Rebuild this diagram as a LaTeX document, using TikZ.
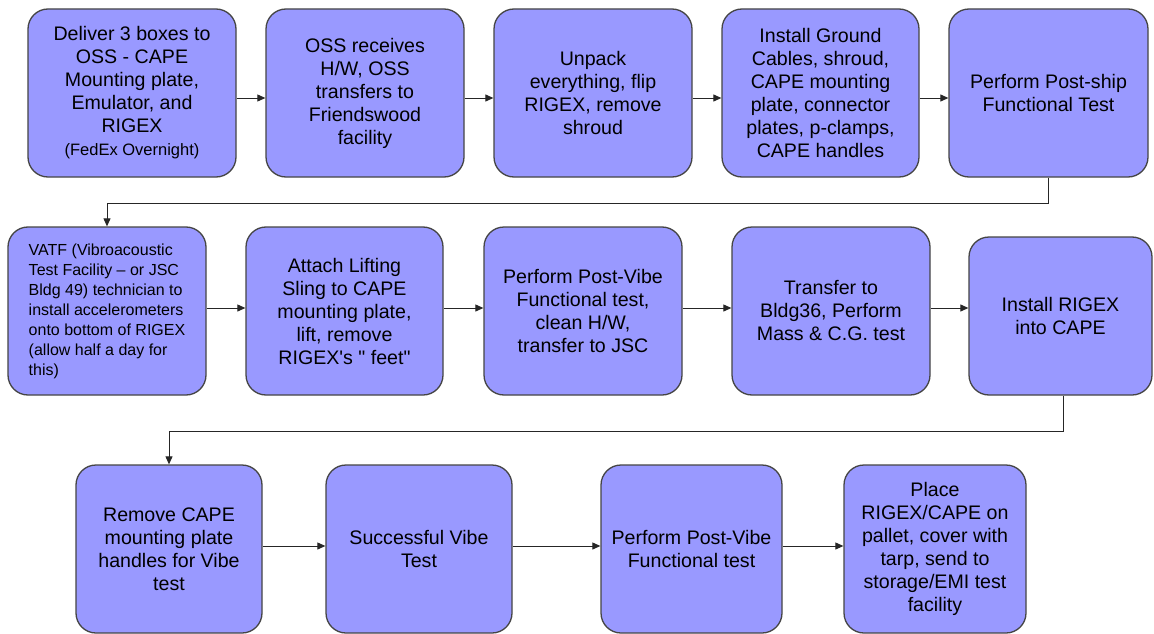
\documentclass[tikz,border=0pt]{standalone}
\usepackage{fontspec}
\setmainfont{Liberation Sans}
\usetikzlibrary{arrows.meta}
\definecolor{boxfill}{HTML}{9999FF}
\definecolor{boxline}{HTML}{454545}
\begin{document}
\begin{tikzpicture}[x=1pt,y=-1pt,
  stepbox/.style={draw=boxline, line width=1.3pt, fill=boxfill, rounded corners=20pt,
    align=center, inner sep=0pt, font=\fontsize{19.6}{23}\selectfont},
  conn/.style={draw=black!85, line width=1pt, -{Triangle[length=8pt,width=7pt]}}]
\useasboundingbox[fill=white] (0,0) rectangle (1154,634);
% row 1
\node[stepbox, minimum width=208pt, minimum height=168pt] (b1) at (132,93)
  {Deliver 3 boxes to\\OSS - CAPE\\Mounting plate,\\Emulator, and\\RIGEX\\{\fontsize{16.5}{18}\selectfont (FedEx Overnight)}};
\node[stepbox, minimum width=198pt, minimum height=168pt] (b2) at (365,93)
  {OSS receives\\H/W, OSS\\transfers to\\Friendswood\\facility};
\node[stepbox, minimum width=198pt, minimum height=168pt] (b3) at (593,93)
  {Unpack\\everything, flip\\RIGEX, remove\\shroud};
\node[stepbox, minimum width=197pt, minimum height=168pt] (b4) at (820.5,93)
  {Install Ground\\Cables, shroud,\\CAPE mounting\\plate, connector\\plates, p-clamps,\\CAPE handles};
\node[stepbox, minimum width=199pt, minimum height=168pt] (b5) at (1048.5,93)
  {Perform Post-ship\\Functional Test};
% row 2
\node[stepbox, minimum width=198pt, minimum height=168pt, align=left, font=\fontsize{16}{20}\selectfont] (b6) at (107,311)
  {VATF (Vibroacoustic\\Test Facility – or JSC\\Bldg 49) technician to\\install accelerometers\\onto bottom of RIGEX\\(allow half a day for\\this)};
\node[stepbox, minimum width=197pt, minimum height=168pt] (b7) at (344.5,311)
  {Attach Lifting\\Sling to CAPE\\mounting plate,\\lift, remove\\RIGEX\textquotesingle s \textquotedbl{} feet\textquotedbl};
\node[stepbox, minimum width=198pt, minimum height=168pt] (b8) at (583,311)
  {Perform Post-Vibe\\Functional test,\\clean H/W,\\transfer to JSC};
\node[stepbox, minimum width=198pt, minimum height=168pt] (b9) at (831,311)
  {Transfer to\\Bldg36, Perform\\Mass \& C.G. test};
\node[stepbox, minimum width=183pt, minimum height=158pt] (b10) at (1060.5,316)
  {Install RIGEX\\into CAPE};
% row 3
\node[stepbox, minimum width=186pt, minimum height=168pt] (b11) at (169,549)
  {Remove CAPE\\mounting plate\\handles for Vibe\\test};
\node[stepbox, minimum width=186pt, minimum height=168pt] (b12) at (419,549)
  {Successful Vibe\\Test};
\node[stepbox, minimum width=181pt, minimum height=168pt] (b13) at (691.5,549)
  {Perform Post-Vibe\\Functional test};
\node[stepbox, minimum width=182pt, minimum height=168pt] (b14) at (935,549)
  {Place\\RIGEX/CAPE on\\pallet, cover with\\tarp, send to\\storage/EMI test\\facility};
% connectors
\draw[conn] ([yshift=-5pt]b1.east) -- ([yshift=-5pt]b2.west);
\draw[conn] ([yshift=-5pt]b2.east) -- ([yshift=-5pt]b3.west);
\draw[conn] ([yshift=-5pt]b3.east) -- ([yshift=-5pt]b4.west);
\draw[conn] ([yshift=-5pt]b4.east) -- ([yshift=-5pt]b5.west);
\draw[conn] (b5.south) -- ++(0,26) -| (b6.north);
\draw[conn] ([yshift=3pt]b6.east) -- ([yshift=3pt]b7.west);
\draw[conn] ([yshift=3pt]b7.east) -- ([yshift=3pt]b8.west);
\draw[conn] ([yshift=3pt]b8.east) -- ([yshift=3pt]b9.west);
\draw[conn] ([yshift=3pt]b9.east) -- ([yshift=3pt]b9.east -| b10.west);
\draw[conn] ([xshift=3pt]b10.south) -- ++(0,36) -| (b11.north);
\draw[conn] ([yshift=3pt]b11.east) -- ([yshift=3pt]b12.west);
\draw[conn] ([yshift=3pt]b12.east) -- ([yshift=3pt]b13.west);
\draw[conn] ([yshift=3pt]b13.east) -- ([yshift=3pt]b14.west);
\end{tikzpicture}
\end{document}
